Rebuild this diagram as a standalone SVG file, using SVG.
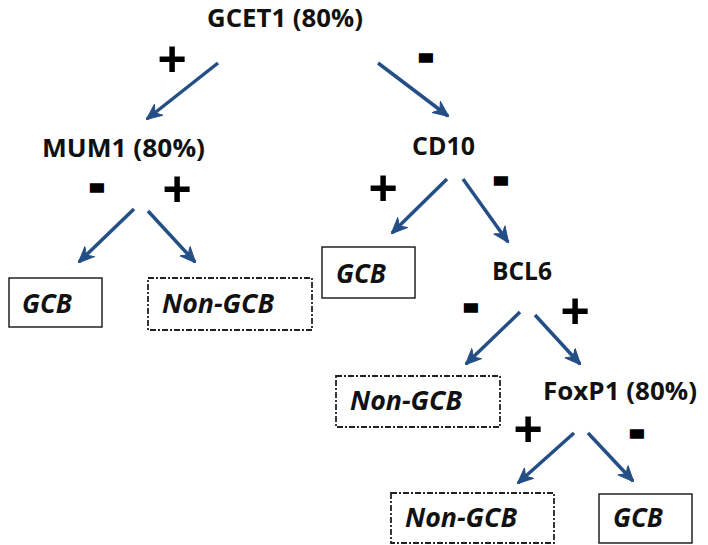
<svg xmlns="http://www.w3.org/2000/svg" width="708" height="545" viewBox="0 0 708 545">
  <style>
    .node { font-family: "Open Sans", "Liberation Sans", sans-serif; font-weight: bold; font-size: 25px; fill: #111; }
    .leaf { font-family: "Open Sans", "Liberation Sans", sans-serif; font-weight: bold; font-style: italic; font-size: 26px; fill: #111; }
    .sign { font-family: "Liberation Sans", "Open Sans", sans-serif; font-weight: bold; font-size: 50px; fill: #000; text-anchor: middle; }
    .minus { font-size: 34px; stroke: #000; stroke-width: 5.5px; stroke-linejoin: miter; }
    .box { fill: #fff; stroke: #222; stroke-width: 1.5; }
    .dash { fill: #fff; stroke: #222; stroke-width: 1.8; stroke-dasharray: 6 2 2 2; }
    .edge { stroke: #244f86; stroke-width: 3.5; fill: none; marker-end: url(#head); }
  </style>
  <defs>
    <!-- swept arrowhead, sized in user units -->
    <marker id="head" viewBox="0 0 16 16" refX="15" refY="8" markerWidth="16" markerHeight="16" orient="auto" markerUnits="userSpaceOnUse">
      <path d="M0,1 L16,8 L0,15 L5,8 z" fill="#244f86" stroke="#244f86" stroke-width="1" stroke-linejoin="round"/>
    </marker>
  </defs>
  <rect width="708" height="545" fill="#fff"/>

  <g id="connectors">
    <line class="edge" x1="218" y1="63" x2="147" y2="119"/>
    <line class="edge" x1="378" y1="63" x2="448" y2="116"/>
    <line class="edge" x1="134" y1="209" x2="79" y2="262"/>
    <line class="edge" x1="148" y1="211" x2="195" y2="262"/>
    <line class="edge" x1="447" y1="179" x2="392" y2="233"/>
    <line class="edge" x1="463" y1="179" x2="508" y2="242"/>
    <line class="edge" x1="520" y1="312" x2="466" y2="364"/>
    <line class="edge" x1="535" y1="315" x2="580" y2="364"/>
    <line class="edge" x1="574" y1="433" x2="518" y2="483"/>
    <line class="edge" x1="588" y1="433" x2="633" y2="481"/>
  </g>

  <g id="signs">
    <text class="sign" x="172" y="75.5">+</text>
    <text class="sign minus" x="426" y="66.5">-</text>
    <text class="sign minus" x="97" y="196.5">-</text>
    <text class="sign" x="177" y="205.5">+</text>
    <text class="sign" x="383" y="204.5">+</text>
    <text class="sign minus" x="501" y="189.5">-</text>
    <text class="sign minus" x="471" y="316.5">-</text>
    <text class="sign" x="575" y="327.5">+</text>
    <text class="sign" x="528" y="445.5">+</text>
    <text class="sign minus" x="637" y="442.5">-</text>
  </g>

  <g id="gcet1"><text class="node" x="207" y="27" textLength="156" lengthAdjust="spacingAndGlyphs">GCET1 (80%)</text></g>
  <g id="mum1"><text class="node" x="42" y="157" textLength="163" lengthAdjust="spacingAndGlyphs">MUM1 (80%)</text></g>
  <g id="cd10"><text class="node" x="412" y="155" textLength="63" lengthAdjust="spacingAndGlyphs">CD10</text></g>
  <g id="bcl6"><text class="node" x="492" y="280" textLength="60" lengthAdjust="spacingAndGlyphs">BCL6</text></g>
  <g id="foxp1"><text class="node" x="543" y="400" textLength="154" lengthAdjust="spacingAndGlyphs">FoxP1 (80%)</text></g>

  <g id="gcb-1">
    <rect class="box" x="9" y="278" width="93" height="49"/>
    <text class="leaf" x="22" y="313">GCB</text>
  </g>
  <g id="nongcb-1">
    <rect class="dash" x="148" y="278" width="164" height="52"/>
    <text class="leaf" x="162" y="313" textLength="112" lengthAdjust="spacingAndGlyphs">Non-GCB</text>
  </g>
  <g id="gcb-2">
    <rect class="box" x="322" y="247" width="93" height="51"/>
    <text class="leaf" x="336" y="283">GCB</text>
  </g>
  <g id="nongcb-2">
    <rect class="dash" x="336" y="376" width="164" height="51"/>
    <text class="leaf" x="350" y="410" textLength="112" lengthAdjust="spacingAndGlyphs">Non-GCB</text>
  </g>
  <g id="nongcb-3">
    <rect class="dash" x="391" y="493" width="163" height="50"/>
    <text class="leaf" x="405" y="527" textLength="112" lengthAdjust="spacingAndGlyphs">Non-GCB</text>
  </g>
  <g id="gcb-3">
    <rect class="box" x="599" y="494" width="93" height="49"/>
    <text class="leaf" x="613" y="527">GCB</text>
  </g>
</svg>
